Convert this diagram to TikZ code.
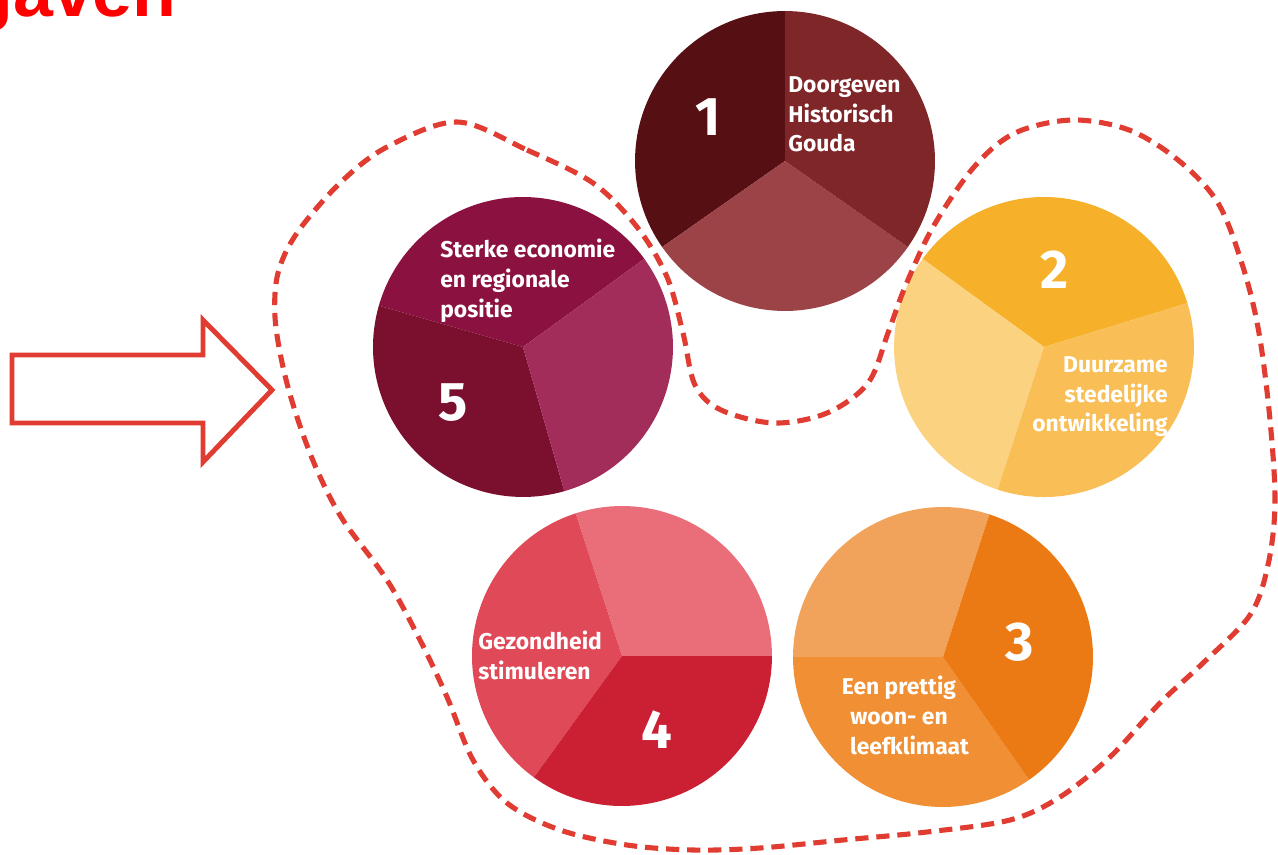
\documentclass[tikz,border=0pt]{standalone}
\usepackage{fontspec}
\setmainfont{Fira Sans}
\newfontfamily\titlefont{Liberation Sans}
\usepackage{tikz}
\usetikzlibrary{positioning}

\definecolor{dashred}{HTML}{E03C31}
\definecolor{titlered}{HTML}{FF0000}
\definecolor{aA}{HTML}{561014}
\definecolor{aB}{HTML}{9B4346}
\definecolor{aC}{HTML}{7F2629}
\definecolor{bA}{HTML}{F6B02A}
\definecolor{bB}{HTML}{FBD280}
\definecolor{bC}{HTML}{F9BE55}
\definecolor{cA}{HTML}{F2A35B}
\definecolor{cB}{HTML}{F08F33}
\definecolor{cC}{HTML}{EC7A14}
\definecolor{dA}{HTML}{EA6E7A}
\definecolor{dB}{HTML}{E04A58}
\definecolor{dC}{HTML}{CB1F34}
\definecolor{eA}{HTML}{8B1240}
\definecolor{eB}{HTML}{7A0F2E}
\definecolor{eC}{HTML}{A32D5A}

\tikzset{
  lbl/.style={text=white, inner sep=0pt, font=\fontsize{13}{17}\selectfont\bfseries},
  num/.style={text=white, inner sep=0pt, font=\fontsize{31}{31}\selectfont\bfseries},
  zone/.style={draw=dashred, line width=2.9pt, dash pattern=on 7.5pt off 4.5pt},
  bigarrow/.style={draw=dashred, line width=2.8pt, line join=miter}
}

\newcommand{\piecircle}[7]{%
  \fill[#5] (#1) -- ++(#2:3cm) arc[start angle=#2, end angle=#3, radius=3cm] -- cycle;
  \fill[#6] (#1) -- ++(#3:3cm) arc[start angle=#3, end angle=#4, radius=3cm] -- cycle;
  \fill[#7] (#1) -- ++(#4:3cm) arc[start angle=#4, end angle=#2+360, radius=3cm] -- cycle;}

\begin{document}
\begin{tikzpicture}[x=0.02cm, y=0.02cm]
  \useasboundingbox (0,0) rectangle (1278,-855);
  \clip (0,0) rectangle (1278,-855);

  \node[inner sep=0pt, anchor=base east, text=titlered, font=\titlefont\fontsize{40.8}{40.8}\selectfont\bfseries] (title) at (177,-17) {gaven};

  \coordinate (c1) at (785,-161);
  \coordinate (c2) at (1044,-347);
  \coordinate (c3) at (943,-657);
  \coordinate (c4) at (622,-656);
  \coordinate (c5) at (523,-347);

  \piecircle{c1}{90}{215}{325}{aA}{aB}{aC}
  \piecircle{c2}{17}{144}{252}{bA}{bB}{bC}
  \piecircle{c3}{72}{180}{305}{cA}{cB}{cC}
  \piecircle{c4}{0}{108}{234}{dA}{dB}{dC}
  \piecircle{c5}{36}{164}{286}{eA}{eB}{eC}

  \node[num] (n1) at (708,-117) {1};
  \node[num] (n2) at (1055,-270) {2};
  \node[num] (n3) at (1020,-642) {3};
  \node[num] (n4) at (657,-730) {4};
  \node[num] (n5) at (453,-403) {5};

  \node[lbl, anchor=north west, align=left] (t1) at (788,-76) {Doorgeven\\Historisch\\Gouda};
  \node[lbl, anchor=north east, align=right] (t2) at (1168,-356) {Duurzame\\stedelijke\hspace*{11pt}\\ontwikkeling};
  \node[lbl, anchor=north, align=center] (t3) at (899,-676) {Een prettig\\woon- en\\\hspace*{12pt}leefklimaat};
  \node[lbl, anchor=north west, align=left] (t4) at (478,-631) {Gezondheid\\stimuleren};
  \node[lbl, anchor=north west, align=left] (t5) at (440,-239) {Sterke economie\\en regionale\\positie};

  \draw[zone] plot[smooth cycle, tension=0.55] coordinates {
    (457,-122) (527,-150) (593,-183) (637,-227) (667,-277) (683,-333) (695,-385)
    (721,-410) (774,-423) (827,-413) (868,-383) (888,-333) (905,-287) (933,-227)
    (974,-167) (1015,-133) (1072,-120) (1129,-130) (1178,-160) (1218,-203)
    (1243,-267) (1259,-333) (1270,-420) (1275,-503) (1268,-565) (1250,-615)
    (1203,-663) (1160,-703) (1110,-757) (1060,-797) (1010,-820) (927,-832)
    (843,-840) (760,-848) (693,-850) (627,-845) (560,-830) (507,-803) (473,-760)
    (447,-697) (420,-640) (387,-580) (343,-520) (317,-470) (297,-417) (283,-367)
    (275,-317) (278,-273) (297,-233) (340,-183) (387,-147)};

  \draw[bigarrow] (12,-355) -- (203,-355) -- (203,-320) -- (272,-390)
    -- (203,-462) -- (203,-423) -- (12,-423) -- cycle;
\end{tikzpicture}
\end{document}
